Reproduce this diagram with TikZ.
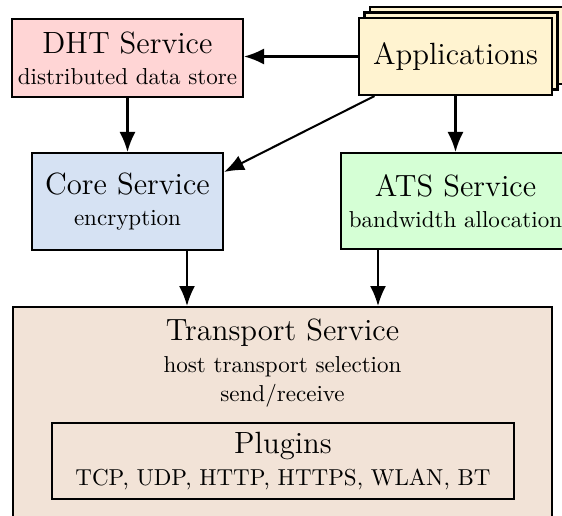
\documentclass[tikz,border=0pt]{standalone}
\usetikzlibrary{arrows.meta,calc}

% one drawing unit = one pixel of the final image
\def\upx{0.390625pt}
% second lines: the 10pt design shrunk to 9pt
\newcommand\subtxt[1]{\scalebox{0.9}{#1}}

\definecolor{dhtfill}{RGB}{255,213,213}
\definecolor{corefill}{RGB}{214,226,243}
\definecolor{atsfill}{RGB}{213,255,213}
\definecolor{appfill}{RGB}{255,243,208}
\definecolor{trpfill}{RGB}{242,227,215}

\tikzset{
  svcbox/.style={draw=black, thick, inner sep=0pt, align=center},
  flow/.style={thick, -{Latex[length=20*\upx, width=16*\upx]}},
}

\begin{document}
\begin{tikzpicture}[x=\upx, y=-\upx]
\useasboundingbox (0,0) rectangle (562,515);

% stacked application boxes (two copies behind the front one)
\node[svcbox, fill=appfill, minimum width={193*\upx}, minimum height={77*\upx}] (apps3) at (466.5,45.5) {};
\node[svcbox, fill=appfill, minimum width={193*\upx}, minimum height={77*\upx}] (apps2) at (461,51) {};
\node[svcbox, fill=appfill, minimum width={193*\upx}, minimum height={77*\upx}] (apps) at (455.5,56.5) {\large Applications};

\node[svcbox, fill=dhtfill, minimum width={231*\upx}, minimum height={78*\upx}] (dht) at (127.5,58)
  {{\large DHT Service}\\\subtxt{distributed data store}};

\node[svcbox, fill=corefill, minimum width={191*\upx}, minimum height={97*\upx}] (core) at (127.5,201.5)
  {{\large Core Service}\\\subtxt{encryption}};

\node[svcbox, fill=atsfill, minimum width={229*\upx}, minimum height={96*\upx}] (ats) at (455.5,201)
  {{\large ATS Service}\\\subtxt{bandwidth allocation}};

% transport service with its plugins
\node[svcbox, fill=trpfill, minimum width={539*\upx}, minimum height={240*\upx}, anchor=north] (transport) at (282.5,306) {};
\node[align=center, inner sep=0pt, anchor=north] (trptext) at (282.5,318.5)
  {{\large Transport Service}\\[0.5pt]\subtxt{host transport selection}\\[-0.9pt]\subtxt{send/receive}};
\node[svcbox, fill=trpfill, minimum width={462*\upx}, minimum height={76*\upx}] (plugins) at (283,461)
  {{\large Plugins}\\[0.5pt]\subtxt{TCP, UDP, HTTP, HTTPS, WLAN, BT}};

% connectors
\coordinate (tin1) at ($(transport.north)+(-95.5,0)$);
\coordinate (tin2) at ($(transport.north)+(95.5,0)$);

\draw[flow] (apps.west) -- (apps.west -| dht.east);
\draw[flow] (dht.south) -- (core.north);
\draw[flow] (apps.206) -- (core.17);
\draw[flow] (apps.south) -- (ats.north);
\draw[flow] (core.south -| tin1) -- (tin1);
\draw[flow] (ats.south -| tin2) -- (tin2);
\end{tikzpicture}
\end{document}
